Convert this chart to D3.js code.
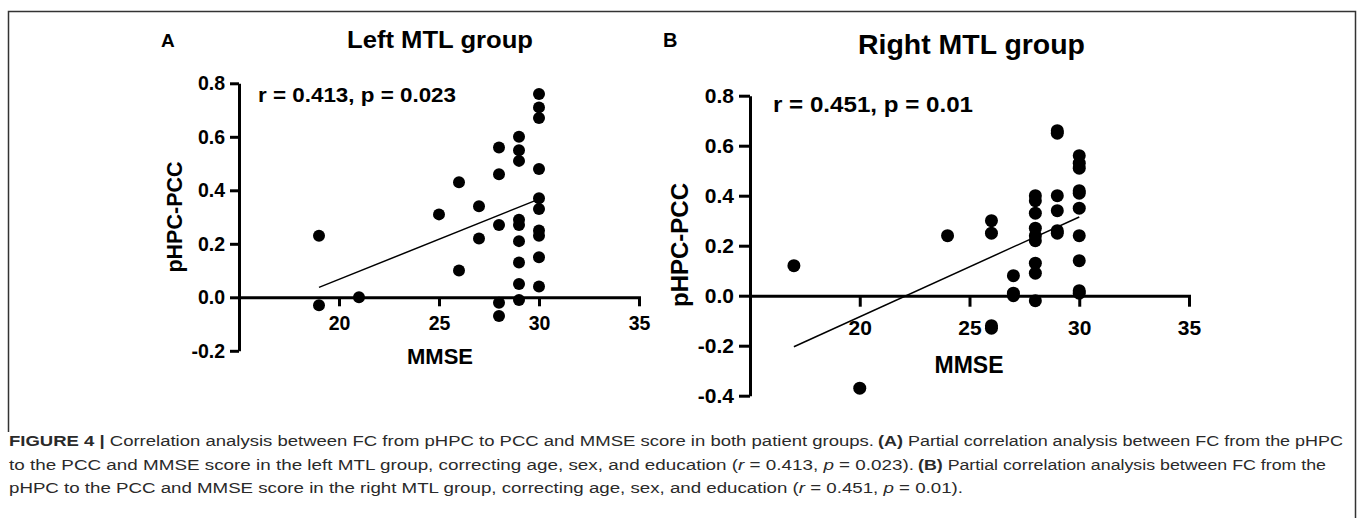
<!DOCTYPE html>
<html>
<head>
<meta charset="utf-8">
<script src="https://cdn.jsdelivr.net/npm/d3@7"></script>
<style>
  body { margin: 0; background: #fff; }
  svg { display: block; }
  .bold { font-family: "Liberation Sans", Arial, sans-serif; font-weight: bold; fill: #000; }
  .caption { font-family: "Liberation Sans", Arial, sans-serif; font-size: 15.5px; fill: #2a2a2a; }
</style>
</head>
<body>
<svg width="1360" height="518"></svg>
<script>
// panel A: left MTL group
const leftMmse = [19, 19, 21, 25, 26, 26, 27, 27,
  28, 28, 28, 28, 28,
  29, 29, 29, 29, 29, 29, 29, 29, 29,
  30, 30, 30, 30, 30, 30, 30, 30, 30, 30];
const leftFc = [0.23, -0.03, 0.00, 0.31, 0.43, 0.10, 0.34, 0.22,
  0.56, 0.46, 0.27, -0.02, -0.07,
  0.60, 0.55, 0.51, 0.29, 0.27, 0.21, 0.13, 0.05, -0.01,
  0.76, 0.71, 0.67, 0.48, 0.37, 0.33, 0.25, 0.23, 0.15, 0.04];
const leftFitX = [19, 30];
const leftFitY = [0.037, 0.367];
const leftYTicks = [-0.2, 0, 0.2, 0.4, 0.6, 0.8];

// panel B: right MTL group
const rightMmse = [17, 20, 24, 26, 26, 26, 26, 27, 27, 27,
  28, 28, 28, 28, 28, 28, 28, 28, 28,
  29, 29, 29, 29, 29, 29,
  30, 30, 30, 30, 30, 30, 30, 30, 30, 30];
const rightFc = [0.12, -0.37, 0.24, 0.30, 0.25, -0.12, -0.13, 0.08, 0.01, 0.00,
  0.40, 0.38, 0.33, 0.27, 0.24, 0.22, 0.13, 0.09, -0.02,
  0.66, 0.65, 0.40, 0.34, 0.26, 0.25,
  0.56, 0.53, 0.51, 0.42, 0.41, 0.35, 0.24, 0.14, 0.02, 0.01];
const rightFitX = [17, 30];
const rightFitY = [-0.204, 0.315];
const rightYTicks = [-0.4, -0.2, 0, 0.2, 0.4, 0.6, 0.8];

const xTicks = [20, 25, 30, 35];

// caption, split in chunks per line ("b" bold, "i" italic)
const captionChunks = [
  [
    [["FIGURE 4 | ", "b"], ["Correlation analysis between FC from pHPC to PCC and MMSE score in both patient groups.", ""]],
    [["(A)", "b"], [" Partial correlation analysis between FC from the pHPC", ""]]
  ],
  [
    [["to the PCC and MMSE score in the left MTL group, correcting age, sex, and education (", ""], ["r", "i"], [" = 0.413, ", ""], ["p", "i"], [" = 0.023).", ""]],
    [["(B)", "b"], [" Partial correlation analysis between FC from the", ""]]
  ],
  [
    [["pHPC to the PCC and MMSE score in the right MTL group, correcting age, sex, and education (", ""], ["r", "i"], [" = 0.451, ", ""], ["p", "i"], [" = 0.01).", ""]]
  ]
];

const svg = d3.select('svg');

svg.append('rect')
    .attr('width', 1360)
    .attr('height', 518)
    .attr('fill', '#fff');

// figure frame
svg.append('path')
    .attr('d', 'M8.5,432 V11.5 H1355.5 V518')
    .attr('fill', 'none')
    .attr('stroke', '#333')
    .attr('stroke-width', 1.5);

// text with a measured width: squeeze/stretch glyphs to fit
const fitText = (sel, len) => sel
    .attr('textLength', len)
    .attr('lengthAdjust', 'spacingAndGlyphs');

const drawPanel = p => {
    const xScale = d3.scaleLinear().domain([15, 35]).range(p.xRange);
    const yScale = d3.scaleLinear().domain(p.yDomain).range(p.yRange);
    const fmt = d => d.toFixed(1);

    const g = svg.append('g');

    const yAxisG = g.append('g')
        .attr('transform', `translate(${p.xRange[0]},0)`)
        .call(d3.axisLeft(yScale)
            .tickValues(p.yTicks)
            .tickFormat(fmt)
            .tickSize(p.tick)
            .tickSizeOuter(0)
            .tickPadding(p.yPad));

    const xAxisG = g.append('g')
        .attr('transform', `translate(0,${yScale(0)})`)
        .call(d3.axisBottom(xScale)
            .tickValues(xTicks)
            .tickSize(p.tick)
            .tickSizeOuter(0)
            .tickPadding(p.xPad));

    [xAxisG, yAxisG].forEach(a => {
        a.selectAll('.domain, line')
            .attr('stroke', '#000')
            .attr('stroke-width', 3);
        a.selectAll('text')
            .attr('class', 'bold')
            .style('font-size', p.tickFont + 'px');
    });
    xAxisG.select('.domain').attr('stroke-linecap', 'square');

    g.selectAll('.dot')
        .data(p.xs.map((x, i) => ({x: x, y: p.ys[i]})))
        .enter().append('circle')
        .attr('class', 'dot')
        .attr('cx', d => xScale(d.x))
        .attr('cy', d => yScale(d.y))
        .attr('r', p.r)
        .attr('fill', '#000');

    g.append('line')
        .attr('x1', xScale(p.fitX[0]))
        .attr('y1', yScale(p.fitY[0]))
        .attr('x2', xScale(p.fitX[1]))
        .attr('y2', yScale(p.fitY[1]))
        .attr('stroke', '#000')
        .attr('stroke-width', 1.5);

    g.append('text')
        .attr('class', 'bold')
        .attr('x', p.letter[0]).attr('y', p.letter[1])
        .style('font-size', p.letter[2] + 'px')
        .text(p.letter[3]);

    g.append('text')
        .attr('class', 'bold')
        .attr('x', p.title[0]).attr('y', p.title[1])
        .style('font-size', p.title[2] + 'px')
        .text(p.title[3])
        .call(fitText, p.title[4]);

    g.append('text')
        .attr('class', 'bold')
        .attr('x', p.stat[0]).attr('y', p.stat[1])
        .style('font-size', p.stat[2] + 'px')
        .text(p.stat[3])
        .call(fitText, p.stat[4]);

    g.append('text')
        .attr('class', 'bold')
        .attr('x', p.xLabel[0]).attr('y', p.xLabel[1])
        .attr('text-anchor', 'middle')
        .style('font-size', p.xLabel[2] + 'px')
        .text('MMSE');

    g.append('text')
        .attr('class', 'bold')
        .attr('transform', `translate(${p.yLabel[0]},${p.yLabel[1]}) rotate(-90)`)
        .attr('text-anchor', 'middle')
        .style('font-size', p.yLabel[2] + 'px')
        .text('pHPC-PCC');
};

drawPanel({
    xs: leftMmse, ys: leftFc, fitX: leftFitX, fitY: leftFitY,
    xRange: [239, 639], yDomain: [-0.2, 0.8], yRange: [350.8, 83.3], yTicks: leftYTicks,
    tick: 9, yPad: 5, xPad: 10, tickFont: 19.5, r: 6,
    letter: [161, 47, 19, 'A'],
    title: [347, 48, 24.5, 'Left MTL group', 186],
    stat: [258, 101.5, 20, 'r = 0.413, p = 0.023', 198],
    xLabel: [440, 364, 22, 'MMSE'],
    yLabel: [182, 217, 21.5]
});

drawPanel({
    xs: rightMmse, ys: rightFc, fitX: rightFitX, fitY: rightFitY,
    xRange: [750, 1189], yDomain: [-0.4, 0.8], yRange: [395.7, 95.7], yTicks: rightYTicks,
    tick: 11, yPad: 5, xPad: 13, tickFont: 21, r: 6.5,
    letter: [663, 46.5, 20, 'B'],
    title: [858, 53.5, 28, 'Right MTL group', 227],
    stat: [773, 111.5, 22, 'r = 0.451, p = 0.01', 200],
    xLabel: [969, 372.5, 23, 'MMSE'],
    yLabel: [688, 245, 24]
});

// caption layout: baseline per line, [start x, width] per chunk
const captionY = [446, 469.5, 493];
const captionBox = [
    [[9, 865], [878, 465]],
    [[9, 905], [918, 408]],
    [[9, 954]]
];
captionChunks.forEach((chunks, li) => {
    chunks.forEach((segs, ci) => {
        const t = svg.append('text')
            .attr('class', 'caption')
            .attr('x', captionBox[li][ci][0])
            .attr('y', captionY[li])
            .call(fitText, captionBox[li][ci][1]);
        segs.forEach(s => {
            t.append('tspan')
                .attr('font-weight', s[1] === 'b' ? 'bold' : null)
                .attr('font-style', s[1] === 'i' ? 'italic' : null)
                .text(s[0]);
        });
    });
});
</script>
</body>
</html>
